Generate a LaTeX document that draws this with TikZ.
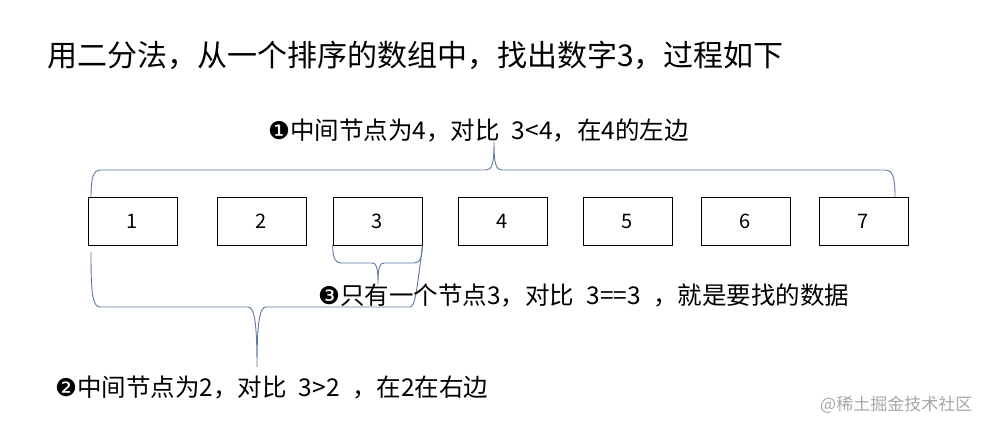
\documentclass[tikz,border=0pt]{standalone}
\usepackage{fontspec}
\setmainfont{Noto Sans CJK SC}
\newfontfamily\dingfont{DejaVu Sans}
\usepackage{tikz}
\usetikzlibrary{positioning}
\definecolor{bracecol}{RGB}{95,120,160}
\newcommand{\gap}{\hspace{.5em}}
\tikzstyle{cell} = [rectangle, minimum width=89pt, minimum height=48pt, text centered, draw=black, line width=0.8pt, font=\fontsize{20}{24}\selectfont]
\tikzstyle{note} = [anchor=west, inner sep=0pt, font=\fontsize{24.5}{28}\selectfont]
\tikzstyle{brace} = [draw=bracecol, line width=0.9pt]

\begin{document}
\begin{tikzpicture}[x=1pt, y=-1pt]
  \useasboundingbox (0,0) rectangle (981,432);

  \node (title) [anchor=west, inner sep=0pt, font=\fontsize{30}{36}\selectfont] at (47,55) {用二分法，从一个排序的数组中，找出数字3，过程如下};

  \node (n1) [cell] at (132.5,221) {1};
  \node (n2) [cell] at (261.5,221) {2};
  \node (n3) [cell] at (377.5,221) {3};
  \node (n4) [cell] at (502.5,221) {4};
  \node (n5) [cell] at (627.5,221) {5};
  \node (n6) [cell] at (745.5,221) {6};
  \node (n7) [cell] at (863.5,221) {7};

  % first look: whole array
  \draw [brace] (91,197) .. controls (91,178) and (93,170) .. (101,170) -- (486,170)
    .. controls (492,170) and (494,164) .. (494,142)
    .. controls (494,164) and (496,170) .. (502,170) -- (885,170)
    .. controls (893,170) and (895,178) .. (895,197);
  \node (lbl1) [note] at (268,130) {{\dingfont ❶}中间节点为4，对比\gap 3<4，在4的左边};

  % second look: 1..3
  \draw [brace] (91,252) .. controls (91,290) and (92,307) .. (100,307) -- (248,307)
    .. controls (254,307) and (257,320) .. (257,367)
    .. controls (257,320) and (260,307) .. (266,307) -- (410,307)
    .. controls (415,307) and (417,290) .. (n3.south east);
  \node (lbl2) [note] at (55,388) {{\dingfont ❷}中间节点为2，对比\gap 3>2\gap ，在2在右边};

  % third look: only 3
  \draw [brace] (n3.south west) .. controls (333,258) and (335,263) .. (341,263) -- (372,263)
    .. controls (376,263) and (378,266) .. (378,284)
    .. controls (378,266) and (380,263) .. (384,263) -- (414,263)
    .. controls (420,263) and (422,258) .. (n3.south east);
  \node (lbl3) [note] at (318,295) {{\dingfont ❸}只有一个节点3，对比\gap 3==3\gap ，就是要找的数据};

  \node (wm) [anchor=west, inner sep=0pt, text=black!35, font=\fontsize{17}{20}\selectfont] at (820,405) {@稀土掘金技术社区};
\end{tikzpicture}
\end{document}
